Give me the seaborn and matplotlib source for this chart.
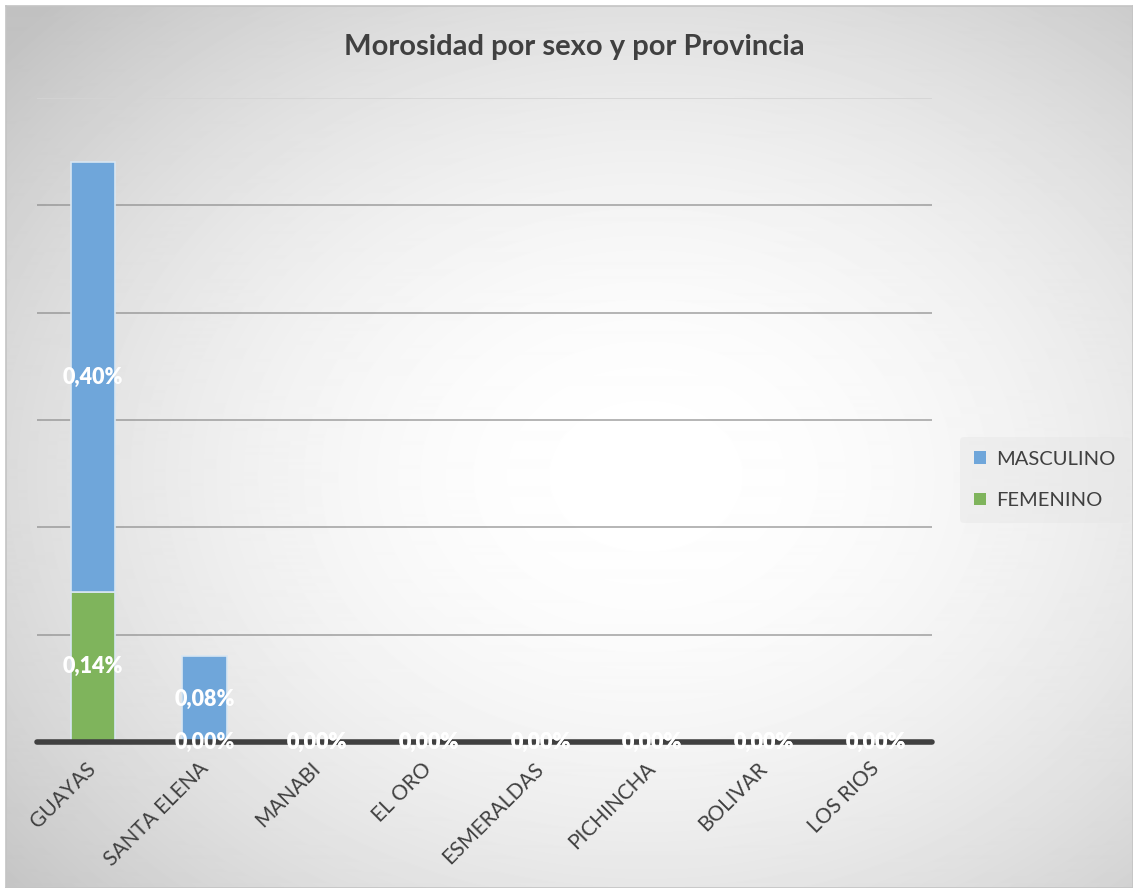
import numpy as np
import pandas as pd
import matplotlib
matplotlib.use("Agg")
import matplotlib.pyplot as plt
import matplotlib.transforms as mtransforms
from matplotlib.patches import Patch
import seaborn as sns

provincias = ["GUAYAS", "SANTA ELENA", "MANABI", "EL ORO", "ESMERALDAS",
              "PICHINCHA", "BOLIVAR", "LOS RIOS"]
masculino = [0.40, 0.08, 0.00, 0.00, 0.00, 0.00, 0.00, 0.00]
femenino = [0.14, 0.00, 0.00, 0.00, 0.00, 0.00, 0.00, 0.00]
sexos = ["MASCULINO", "FEMENINO"]
colores = {"MASCULINO": "#6fa6da", "FEMENINO": "#7fb45c"}

df = pd.DataFrame({
    "provincia": provincias * 2,
    "sexo": ["MASCULINO"] * len(provincias) + ["FEMENINO"] * len(provincias),
    "valor": masculino + femenino,
})
df["provincia"] = pd.Categorical(df["provincia"], categories=provincias, ordered=True)

sns.set_style("white")
plt.rcParams["font.family"] = ["Lato", "DejaVu Sans"]

fig = plt.figure(figsize=(11.33, 8.88), dpi=100)
fig.patch.set_facecolor("white")

# radial gradient background
bg = fig.add_axes([6 / 1133, 0, 1 - 6 / 1133, 1 - 6 / 888], zorder=0)
yy, xx = np.mgrid[0:882, 0:1127]
cx, cy = 640, 470
r = np.sqrt(((xx - cx) / 1127) ** 2 + ((yy - cy) / 882) ** 2) / 0.75
shade = 1 - 0.24 * np.clip(r, 0, 1) ** 1.9
bg.imshow(shade, cmap="gray", vmin=0, vmax=1, aspect="auto", interpolation="bilinear")
bg.set_xticks([])
bg.set_yticks([])
for s in bg.spines.values():
    s.set_color("#c4c4c4")
    s.set_linewidth(1.2)

ax = fig.add_axes([37 / 1133, 1 - 742 / 888, (932 - 37) / 1133, (742 - 98) / 888], zorder=1)
ax.patch.set_alpha(0)

sns.histplot(data=df, x="provincia", weights="valor", hue="sexo", hue_order=sexos,
             multiple="stack", discrete=True, shrink=0.4, palette=colores,
             edgecolor="#d8e6f2", linewidth=1.2, alpha=1.0, legend=False, ax=ax)

ax.set_ylim(0, 0.6)
ax.set_xlim(-0.5, len(provincias) - 0.5)
for yv in [0.1, 0.2, 0.3, 0.4, 0.5]:
    ax.axhline(yv, color="#8c8c8c", lw=1.2, alpha=0.75, zorder=0)
ax.axhline(0.6, color="#d4d4d4", lw=1.2, zorder=0)
ax.axhline(0, color="#404040", lw=4, zorder=3, clip_on=False)

for cont in ax.containers:
    ax.bar_label(cont, fmt=lambda v: f"{v:.2f}%".replace(".", ","), label_type="center",
                 color="white", fontsize=15.5, fontweight="heavy", zorder=5)

ax.set_yticks([])
ax.set_xticks(range(len(provincias)))
ax.set_xticklabels(provincias, rotation=45, ha="right", rotation_mode="anchor",
                   fontsize=15, color="#404040")
ax.tick_params(axis="x", length=0, pad=12)
shift = mtransforms.ScaledTranslation(-7 / 100, 0, fig.dpi_scale_trans)
for lbl in ax.get_xticklabels():
    lbl.set_transform(lbl.get_transform() + shift)
ax.set_xlabel("")
ax.set_ylabel("")
for s in ax.spines.values():
    s.set_visible(False)

fig.text(0.507, 0.947, "Morosidad por sexo y por Provincia", ha="center", va="center",
         fontsize=21, fontweight="bold", color="#404040")

handles = [Patch(facecolor=colores[s], edgecolor="none") for s in sexos]
leg = fig.legend(handles, sexos, loc="center", bbox_to_anchor=(1045 / 1133, 1 - 480 / 888),
                 fontsize=14.5, frameon=True, handlelength=0.6, handleheight=0.6,
                 labelspacing=1.2, handletextpad=0.5, borderpad=0.7)
leg.get_frame().set_facecolor("#e6e6e6")
leg.get_frame().set_edgecolor("none")
leg.get_frame().set_alpha(0.45)
for t in leg.get_texts():
    t.set_color("#404040")

fig.savefig("out.png", dpi=100)
